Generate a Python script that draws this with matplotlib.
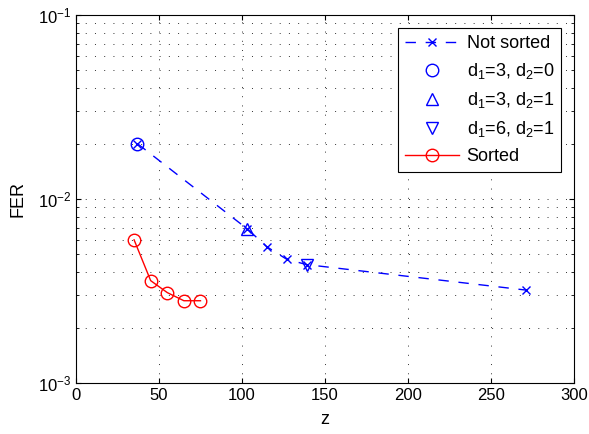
import matplotlib; matplotlib.use('Agg')
import matplotlib.pyplot as plt
from matplotlib.ticker import LogLocator, NullFormatter

plt.rcParams.update({'font.family': 'Liberation Sans', 'font.size': 13,
                     'mathtext.fontset': 'custom', 'mathtext.rm': 'Liberation Sans',
                     'mathtext.it': 'Liberation Sans', 'xtick.direction': 'in',
                     'ytick.direction': 'in'})

# data
z_ns = [37, 103, 115, 127, 139, 271]
fer_ns = [0.020, 0.0069, 0.0055, 0.0047, 0.0044, 0.0032]
z_30, fer_30 = [37], [0.020]
z_31, fer_31 = [103], [0.0069]
z_61, fer_61 = [139], [0.0044]
z_s = [35, 45, 55, 65, 75]
fer_s = [0.0060, 0.0036, 0.0031, 0.0028, 0.0028]

fig = plt.figure(figsize=(5.89, 4.34), dpi=100)
ax = fig.add_axes([0.129, 0.1175, 0.8455, 0.8479])
ax.set_yscale('log')
ax.plot(z_ns, fer_ns, '--', color='b', marker='x', ms=6, mew=1.0, lw=1.0,
        dashes=(7.5, 7), label='Not sorted')
ax.plot(z_30, fer_30, 'o', mfc='none', mec='b', ms=9, mew=1.0, ls='none',
        label='$d_1$=3, $d_2$=0')
ax.plot(z_31, fer_31, '^', mfc='none', mec='b', ms=9, mew=1.0, ls='none',
        label='$d_1$=3, $d_2$=1')
ax.plot(z_61, fer_61, 'v', mfc='none', mec='b', ms=9, mew=1.0, ls='none',
        label='$d_1$=6, $d_2$=1')
ax.plot(z_s, fer_s, '-', color='r', marker='o', mfc='none', mec='r', ms=9,
        mew=1.0, lw=1.0, label='Sorted')

ax.set_xlim(0, 300)
ax.set_ylim(1e-3, 1e-1)
ax.set_xticks(range(0, 301, 50))
ax.yaxis.set_major_locator(LogLocator(base=10, numticks=10))
ax.yaxis.set_minor_locator(LogLocator(base=10, subs=range(2, 10), numticks=10))
ax.yaxis.set_minor_formatter(NullFormatter())
ax.grid(True, which='major', ls=(0, (1, 8.5)), color='0.2', lw=0.7)
ax.grid(True, which='minor', axis='y', ls=(0, (1, 8.5)), color='0.2', lw=0.7)
ax.tick_params(which='both', top=True, right=True, labelsize=12)
ax.set_xlabel('z', labelpad=6)
ax.set_ylabel('FER', labelpad=8)

leg = ax.legend(loc='upper right', fancybox=False, edgecolor='k', framealpha=1,
                handlelength=3.0, handletextpad=0.4, borderpad=0.4,
                labelspacing=0.5, fontsize=13, borderaxespad=0.7)
leg.get_frame().set_linewidth(0.8)

plt.savefig('out.png', dpi=100, facecolor='white')
